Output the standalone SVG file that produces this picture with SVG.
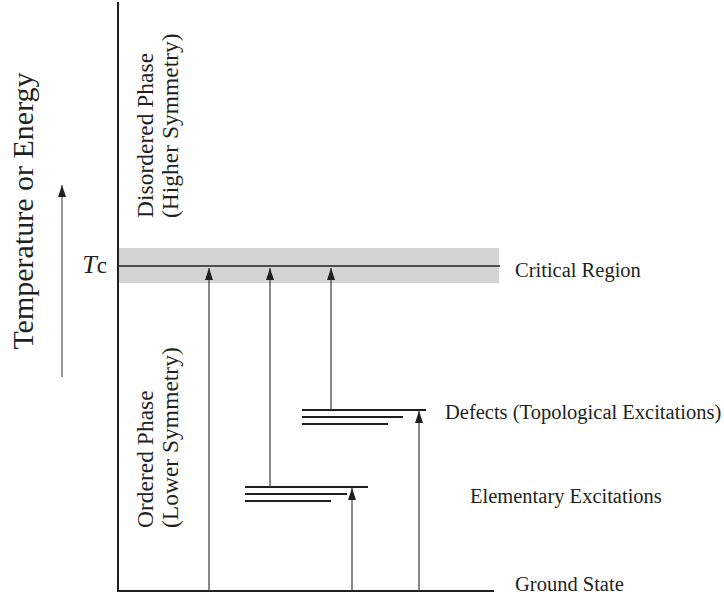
<svg xmlns="http://www.w3.org/2000/svg" width="724" height="599" viewBox="0 0 724 599">
<style>
  text { font-family: "Liberation Serif", "Times New Roman", serif; fill: #231f20; }
  .lbl { font-size: 20.5px; }
  .vlbl { font-size: 23.5px; }
  .axis { stroke: #231f20; stroke-width: 2; fill: none; }
  .lvl { stroke: #231f20; stroke-width: 2; fill: none; }
  .arr { stroke: #3a3a3a; stroke-width: 1.2; fill: none; marker-end: url(#ah); }
</style>
<defs>
  <marker id="ah" markerUnits="userSpaceOnUse" markerWidth="12" markerHeight="8" refX="12" refY="4" orient="auto" viewBox="0 0 12 8">
    <path d="M0,0 L12,4 L0,8 Z" fill="#231f20"/>
  </marker>
</defs>

<g id="critical-region">
  <rect x="119" y="248" width="380" height="35" fill="#d4d4d4"/>
  <line x1="118" y1="266" x2="500" y2="266" stroke="#231f20" stroke-width="1.6"/>
  <text class="lbl" x="515" y="277">Critical Region</text>
  <text x="107" y="273" text-anchor="end" style="font-size:26px"><tspan font-style="italic">T</tspan><tspan style="font-size:23px">c</tspan></text>
</g>

<g id="axes">
  <line class="axis" x1="118" y1="2" x2="118" y2="592"/>
  <line class="axis" x1="117" y1="591" x2="494" y2="591"/>
</g>

<g id="ground-state">
  <text class="lbl" x="515" y="591">Ground State</text>
</g>

<g id="defects">
  <line class="lvl" x1="302" y1="410" x2="426" y2="410"/>
  <line class="lvl" x1="302" y1="417" x2="403" y2="417"/>
  <line class="lvl" x1="302" y1="424" x2="388" y2="424"/>
  <text class="lbl" x="445" y="419">Defects (Topological Excitations)</text>
</g>

<g id="elementary">
  <line class="lvl" x1="245" y1="487" x2="368" y2="487"/>
  <line class="lvl" x1="245" y1="494" x2="347" y2="494"/>
  <line class="lvl" x1="245" y1="501" x2="331" y2="501"/>
  <text class="lbl" x="470" y="503">Elementary Excitations</text>
</g>

<g id="disordered-phase">
  <text class="vlbl" transform="translate(153,218) rotate(-90)">Disordered Phase</text>
  <text class="vlbl" transform="translate(178,218) rotate(-90)">(Higher Symmetry)</text>
</g>

<g id="ordered-phase">
  <text class="vlbl" transform="translate(153,528) rotate(-90)">Ordered Phase</text>
  <text class="vlbl" transform="translate(178,528) rotate(-90)">(Lower Symmetry)</text>
</g>

<g id="axis-label">
  <text transform="translate(33,211) rotate(-90)" text-anchor="middle" style="font-size:30px">Temperature or Energy</text>
</g>

<g id="connectors">
  <line x1="62" y1="377" x2="62" y2="185" stroke="#555" stroke-width="1.2" marker-end="url(#ah)"/>
  <line class="arr" x1="209" y1="591" x2="209" y2="268"/>
  <line class="arr" x1="270" y1="487" x2="270" y2="268"/>
  <line class="arr" x1="331" y1="410" x2="331" y2="268"/>
  <line class="arr" x1="352" y1="591" x2="352" y2="488"/>
  <line class="arr" x1="419" y1="591" x2="419" y2="411"/>
</g>
</svg>
